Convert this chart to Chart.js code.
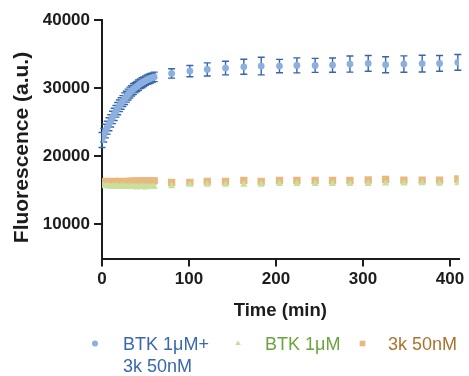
<!DOCTYPE html>
<html>
<head>
<meta charset="utf-8">
<title>Fluorescence time course</title>
<script src="https://cdn.jsdelivr.net/npm/chart.js@4.4.1/dist/chart.umd.min.js"></script>
<style>
  html, body { margin: 0; padding: 0; background: #ffffff; }
  canvas { display: block; }
</style>
</head>
<body>
<canvas id="chart" width="469" height="376"></canvas>
<script>
// Sampling times (min): every 2 min for the first hour, then every ~20.5 min
const timeMin = [
  0, 2, 4, 6, 8, 10, 12, 14, 16, 18, 20, 22, 24, 26, 28, 30,
  32, 34, 36, 38, 40, 42, 44, 46, 48, 50, 52, 54, 56, 58, 60,
  80, 101, 121, 142, 163, 183, 204, 224, 245, 265, 285, 306, 326, 347, 368, 388, 409
];

// BTK 1μM + 3k 50nM: mean fluorescence and SEM
const comboMean = [
  22400, 23100, 23700, 24200, 24700, 25200, 25700, 26150, 26600, 27000, 27400, 27750, 28100, 28450, 28750, 29050,
  29350, 29600, 29850, 30050, 30250, 30450, 30650, 30800, 30950, 31100, 31250, 31350, 31450, 31550, 31650,
  32160, 32500, 32750, 32940, 33130, 33240, 33240, 33340, 33340, 33380, 33530, 33630, 33430, 33530, 33600, 33630, 33780
];
const comboSem = [
  1100, 1000, 1000, 950, 950, 900, 900, 900, 850, 900, 850, 850, 800, 850, 800, 800,
  800, 750, 800, 750, 750, 750, 700, 750, 700, 700, 700, 700, 700, 650, 700,
  690, 830, 960, 1000, 1100, 1300, 980, 1100, 1030, 1050, 1180, 1150, 1180, 1200, 1230, 1150, 1150
];

// BTK 1μM alone
const btkMean = [
  15700, 15650, 15600, 15650, 15600, 15550, 15600, 15550, 15600, 15550, 15500, 15550, 15600, 15550, 15500, 15550,
  15500, 15500, 15550, 15500, 15450, 15500, 15550, 15500, 15500, 15450, 15500, 15550, 15500, 15500, 15550,
  15630, 15840, 15850, 15850, 15850, 15850, 15930, 15960, 15960, 15960, 15960, 15960, 16030, 16030, 16060, 16000, 16070
];

// 3k 50nM alone
const probeMean = [
  16250, 16200, 16250, 16300, 16250, 16200, 16250, 16300, 16250, 16250, 16300, 16250, 16200, 16250, 16300, 16300,
  16250, 16300, 16350, 16300, 16350, 16350, 16300, 16350, 16400, 16350, 16400, 16400, 16350, 16400, 16400,
  16180, 16180, 16320, 16320, 16470, 16320, 16470, 16470, 16470, 16470, 16470, 16520, 16620, 16500, 16500, 16500, 16660
];

const seriesLabels = [['BTK 1μM+', '3k 50nM'], ['BTK 1μM'], ['3k 50nM']];
const xTickValues = [0, 100, 200, 300, 400];
const yTickValues = [10000, 20000, 30000, 40000];
const xTitle = 'Time (min)';
const yTitle = 'Fluorescence (a.u.)';

const FONT = '"Liberation Sans", Arial, Helvetica, sans-serif';
const AXIS_COLOR = '#1c1c1c';

const toPoints = (vals) => timeMin.map((t, i) => ({ x: t, y: vals[i] }));

// Vertical SEM bars with caps, drawn under the markers
const semBars = {
  id: 'semBars',
  beforeDatasetsDraw(chart) {
    const { ctx, scales: { x, y } } = chart;
    ctx.save();
    ctx.strokeStyle = '#3565aa';
    ctx.lineWidth = 1.4;
    const cap = 3.5;
    timeMin.forEach((t, i) => {
      const px = x.getPixelForValue(t);
      const top = y.getPixelForValue(comboMean[i] + comboSem[i]);
      const bot = y.getPixelForValue(comboMean[i] - comboSem[i]);
      ctx.beginPath();
      ctx.moveTo(px, top); ctx.lineTo(px, bot);
      ctx.moveTo(px - cap, top); ctx.lineTo(px + cap, top);
      ctx.moveTo(px - cap, bot); ctx.lineTo(px + cap, bot);
      ctx.stroke();
    });
    ctx.restore();
  }
};

// Rotated y-axis title, centred a little below the middle of the plot
const yAxisTitle = {
  id: 'yAxisTitle',
  afterDraw(chart) {
    const { ctx } = chart;
    ctx.save();
    ctx.translate(22.5, 147.5);
    ctx.rotate(-Math.PI / 2);
    ctx.font = 'bold 21px ' + FONT;
    ctx.fillStyle = AXIS_COLOR;
    ctx.textAlign = 'center';
    ctx.textBaseline = 'middle';
    ctx.fillText(yTitle, 0, 0);
    ctx.restore();
  }
};

// Legend row under the x-axis title
const legendRow = {
  id: 'legendRow',
  afterDraw(chart) {
    const { ctx } = chart;
    const items = [
      { mx: 95, tx: 123 },
      { mx: 238, tx: 265 },
      { mx: 362.5, tx: 388 }
    ];
    const rowY = 343.5;
    const baseline = 350;
    const lineGap = 22;
    ctx.save();
    ctx.font = '18px ' + FONT;
    ctx.textBaseline = 'alphabetic';
    ctx.textAlign = 'left';
    chart.data.datasets.forEach((ds, i) => {
      const it = items[i];
      ctx.fillStyle = ds.backgroundColor;
      Chart.helpers.drawPoint(ctx, { pointStyle: ds.pointStyle, radius: ds.legendRadius, borderWidth: 0, rotation: 0 }, it.mx, rowY);
      ctx.fillStyle = ds.labelColor;
      ds.label.forEach((line, k) => ctx.fillText(line, it.tx, baseline + k * lineGap));
    });
    ctx.restore();
  }
};

new Chart(document.getElementById('chart'), {
  type: 'scatter',
  data: {
    datasets: [
      {
        label: seriesLabels[0],
        data: toPoints(comboMean),
        pointStyle: 'circle',
        pointRadius: 3.4,
        borderWidth: 0,
        pointBorderWidth: 0,
        backgroundColor: '#8cafdf',
        labelColor: '#3a67ad',
        legendRadius: 3
      },
      {
        label: seriesLabels[1],
        data: toPoints(btkMean),
        pointStyle: 'triangle',
        pointRadius: 4.2,
        borderWidth: 0,
        pointBorderWidth: 0,
        backgroundColor: '#c9e09c',
        labelColor: '#6ba43d',
        legendRadius: 3.2
      },
      {
        label: seriesLabels[2],
        data: toPoints(probeMean),
        pointStyle: 'rect',
        pointRadius: 5.2,
        borderWidth: 0,
        pointBorderWidth: 0,
        backgroundColor: '#e8b97f',
        labelColor: '#a9732e',
        legendRadius: 4
      }
    ]
  },
  options: {
    responsive: false,
    animation: false,
    devicePixelRatio: 1,
    layout: { padding: { top: 20, right: 10.3, bottom: 52, left: 0 } },
    plugins: {
      legend: { display: false },
      tooltip: { enabled: false }
    },
    scales: {
      x: {
        type: 'linear',
        min: 0,
        max: 410,
        afterFit(scale) { scale.height = 65.5; },
        afterBuildTicks(scale) { scale.ticks = xTickValues.map(v => ({ value: v })); },
        grid: { drawOnChartArea: false, drawTicks: true, tickLength: 8, color: AXIS_COLOR, lineWidth: 2 },
        border: { display: true, color: AXIS_COLOR, width: 2 },
        ticks: { color: AXIS_COLOR, padding: 3, font: { family: FONT, size: 17, weight: 'bold' }, maxRotation: 0, callback: v => String(v) },
        title: { display: true, text: xTitle, color: AXIS_COLOR, padding: { top: 0, bottom: 2 }, font: { family: FONT, size: 18.5, weight: 'bold' } }
      },
      y: {
        type: 'linear',
        min: 5000,
        max: 40000,
        afterFit(scale) { scale.width = 102; },
        afterBuildTicks(scale) { scale.ticks = yTickValues.map(v => ({ value: v })); },
        grid: { drawOnChartArea: false, drawTicks: true, tickLength: 8, color: AXIS_COLOR, lineWidth: 2 },
        border: { display: true, color: AXIS_COLOR, width: 2 },
        ticks: { color: AXIS_COLOR, padding: 4, font: { family: FONT, size: 17, weight: 'bold' }, callback: v => String(v) },
        title: { display: false }
      }
    }
  },
  plugins: [semBars, yAxisTitle, legendRow]
});
</script>
</body>
</html>
